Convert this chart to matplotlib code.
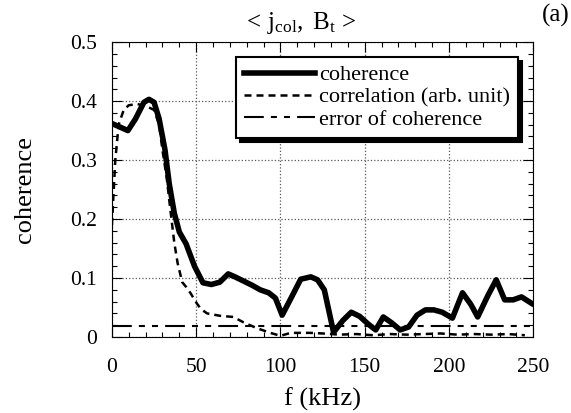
import matplotlib
matplotlib.use('Agg')
import matplotlib.pyplot as plt
from matplotlib.ticker import MultipleLocator

plt.rcParams['font.family'] = ['Liberation Serif', 'DejaVu Serif']
plt.rcParams['mathtext.fontset'] = 'custom'
plt.rcParams['mathtext.rm'] = 'Liberation Serif'
plt.rcParams['mathtext.it'] = 'Liberation Serif:italic'

# coherence spectrum (thick solid)
f_coh = [0, 4, 9.5, 14, 19, 22, 25, 28, 31.5, 34, 37, 40, 44, 49, 54, 59, 64, 69,
         73, 78, 83, 88, 93, 97, 101, 107, 112, 118, 122, 126, 131.5, 137, 142,
         147, 152, 156.5, 161, 166, 171, 176, 181, 186, 191, 196, 202, 208, 213,
         217, 223, 228, 233, 238, 243, 249]
coh = [0.362, 0.357, 0.350, 0.370, 0.398, 0.403, 0.398, 0.370, 0.317, 0.260,
       0.210, 0.178, 0.158, 0.120, 0.092, 0.089, 0.093, 0.107, 0.102, 0.095,
       0.088, 0.080, 0.075, 0.066, 0.037, 0.070, 0.098, 0.102, 0.097, 0.080,
       0.008, 0.028, 0.042, 0.035, 0.022, 0.012, 0.034, 0.024, 0.012, 0.017,
       0.037, 0.046, 0.046, 0.042, 0.032, 0.075, 0.055, 0.034, 0.070, 0.097,
       0.063, 0.063, 0.068, 0.057]

# cross correlation, arbitrary units (dashed)
f_cor = [0, 2, 4, 7, 10, 15, 20, 25, 28, 30, 32.5, 34.5, 37, 39, 41.7, 44, 46.5,
         50.6, 53, 56.5, 64, 72, 78, 86, 94, 100, 106, 118, 125, 135, 145, 155,
         165, 175, 185, 195, 205, 215, 225, 235, 245]
cor = [0.190, 0.300, 0.360, 0.385, 0.393, 0.395, 0.392, 0.385, 0.360, 0.317,
       0.270, 0.220, 0.160, 0.125, 0.093, 0.085, 0.075, 0.056, 0.047, 0.040,
       0.036, 0.034, 0.025, 0.015, 0.007, 0.002, 0.007, 0.007, 0.006, 0.004,
       0.005, 0.003, 0.005, 0.004, 0.005, 0.006, 0.004, 0.005, 0.004, 0.005,
       0.003]

# statistical error level of the coherence
f_err = [0, 250]
err = [0.018, 0.018]

xticks = [0, 50, 100, 150, 200, 250]
yticks = [0, 0.1, 0.2, 0.3, 0.4, 0.5]
ytick_labels = ['0', '0.1', '0.2', '0.3', '0.4', '0.5']

fig = plt.figure(figsize=(5.71, 4.13), dpi=100)
ax = fig.add_axes([0.196, 0.184, 0.738, 0.714])

ax.plot(f_coh, coh, color='k', lw=4, solid_joinstyle='round', label='coherence')
ax.plot(f_cor, cor, color='k', lw=1.8, dashes=(2.8, 2.0), label='correlation (arb. unit)')
ax.plot(f_err, err, color='k', lw=1.5, dashes=(9.5, 3.4, 2.9, 3.4, 2.9, 3.4),
        label='error of coherence')

ax.set_xlim(0, 250)
ax.set_ylim(0, 0.5)
ax.set_xticks(xticks)
ax.set_yticks(yticks)
ax.set_yticklabels(ytick_labels)
ax.xaxis.set_minor_locator(MultipleLocator(10))
ax.yaxis.set_minor_locator(MultipleLocator(0.02))
ax.tick_params(which='both', direction='in', top=True, right=True, width=0.8)
ax.tick_params(which='major', length=7, labelsize=15.5)
ax.tick_params(axis='x', which='major', pad=15)
ax.tick_params(axis='y', which='major', pad=11)
ax.tick_params(which='minor', length=3.5)
for s in ax.spines.values():
    s.set_linewidth(0.8)
ax.grid(True, which='major', linestyle=':', color='0.35', lw=0.9)

ax.set_xlabel('f (kHz)', fontsize=19, labelpad=8)
ax.set_ylabel('coherence', fontsize=19, labelpad=24)

fig.text(0.525, 0.945, r'$<\,\mathrm{j}_{\mathrm{col}},\ \mathrm{B}_{\mathrm{t}}\,>$',
         fontsize=18, ha='center', va='center')
fig.text(0.998, 0.962, '(a)', fontsize=18, ha='right', va='center')

leg = ax.legend(loc='upper right', bbox_to_anchor=(0.964, 0.949), borderaxespad=0,
                fontsize=16, handlelength=3.2, handletextpad=0.2, labelspacing=0.08,
                borderpad=0.35, fancybox=False, framealpha=1,
                shadow={'ox': 3, 'oy': -3, 'color': 'k', 'alpha': 1})
leg.get_frame().set_edgecolor('k')
leg.get_frame().set_linewidth(1.5)

plt.savefig('out.png', dpi=100)
